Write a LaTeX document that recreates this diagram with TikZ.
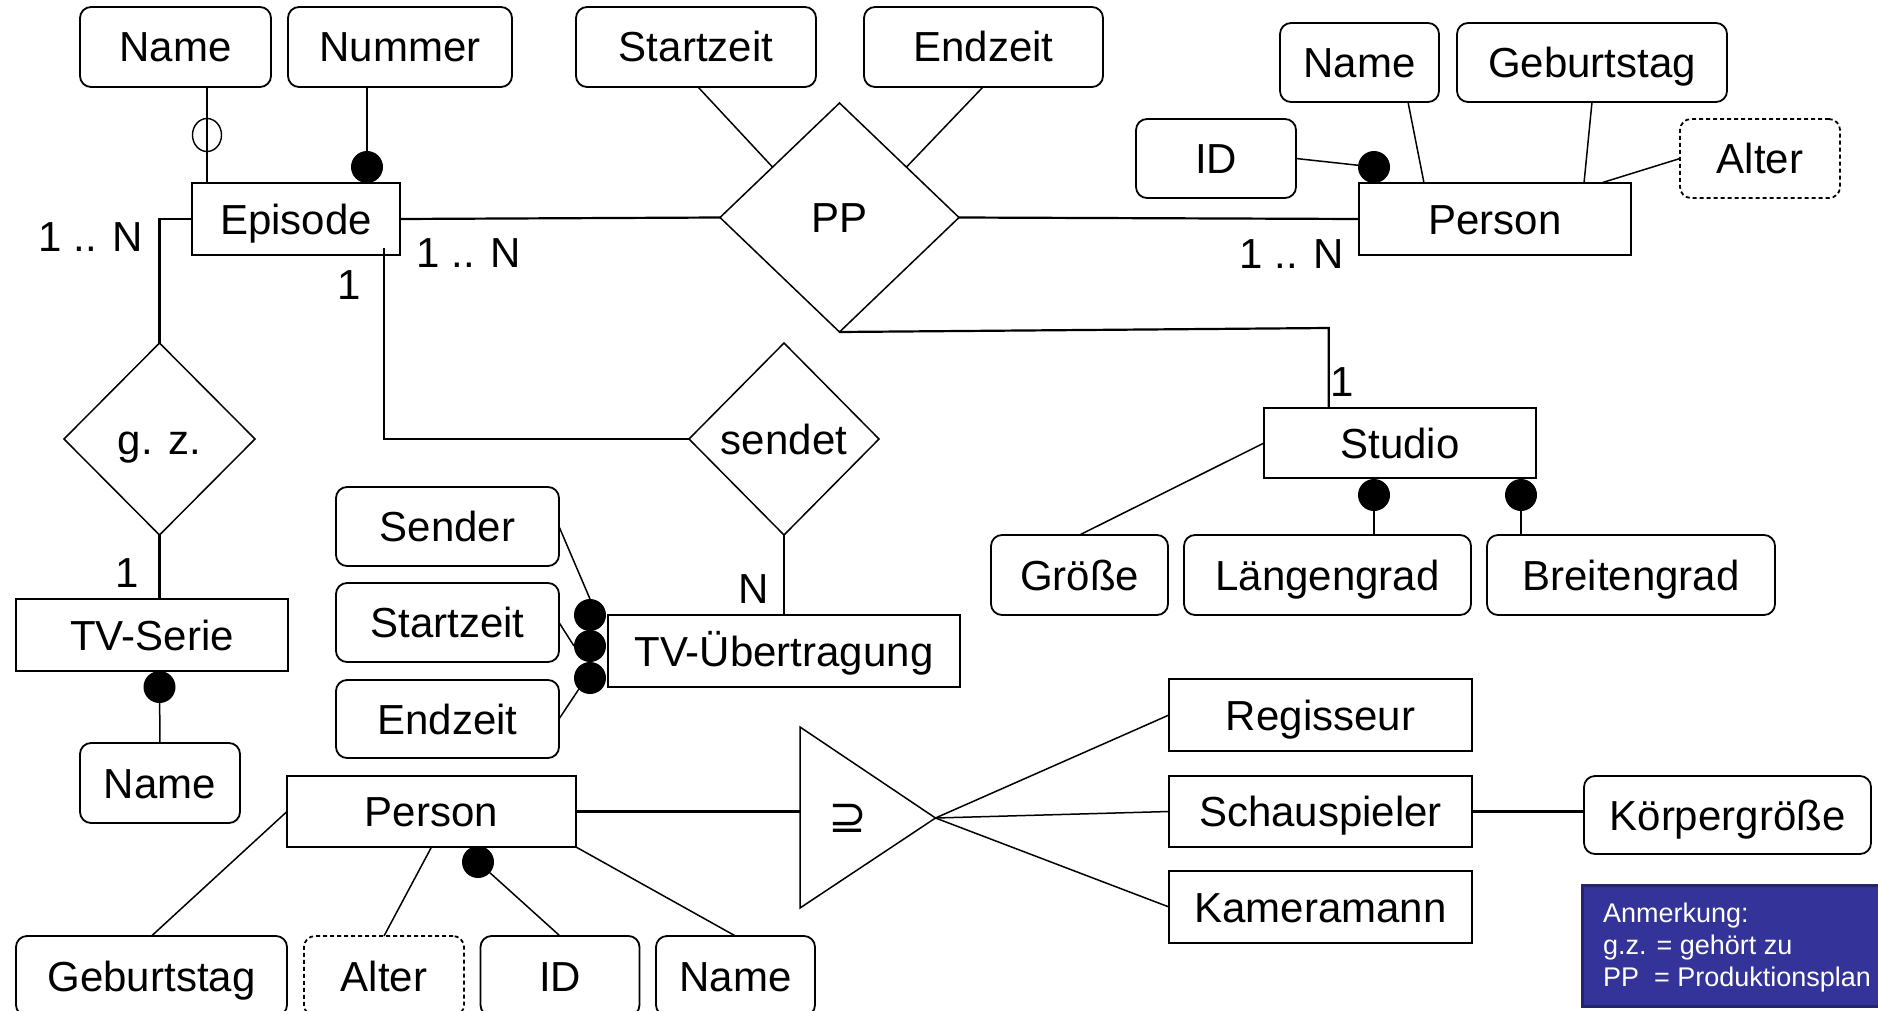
\documentclass[tikz,border=0pt]{standalone}
\usepackage{fontspec}
\setmainfont{Liberation Sans}
\newfontfamily\symfont{DejaVu Sans}
\usetikzlibrary{shapes.geometric,calc}
\newcommand{\mf}{\fontsize{21}{25}\selectfont}
\definecolor{notefill}{HTML}{333399}
\definecolor{noteline}{HTML}{25256E}
\begin{document}
\begin{tikzpicture}[x=0.5pt,y=-0.5pt,
  every node/.style={outer sep=0pt},
  ent/.style={draw, line width=0.9pt, inner sep=0pt, font=\mf, text height=15pt, text depth=0pt},
  att/.style={ent, rounded corners=5.5pt},
  datt/.style={att, dash pattern=on 2pt off 1.5pt},
  rel/.style={diamond, draw, line width=0.75pt, inner sep=0pt, font=\mf, text height=15pt, text depth=0pt},
  dot/.style={circle, fill=black, inner sep=0pt, minimum size=16pt},
  ocirc/.style={ellipse, draw, line width=0.7pt, inner sep=0pt, minimum width=14.5pt, minimum height=16.5pt},
  lbl/.style={font=\mf, inner sep=0pt, text height=15pt, text depth=0pt},
  con/.style={line width=0.75pt},
  er/.style={line width=1.1pt}]
\useasboundingbox (0,0) rectangle (1878,1011);
\clip (0,0) rectangle (1878,1011);

% entities
\node[ent, minimum width=104pt, minimum height=36pt] (ep) at (296,219) {Episode};
\node[ent, minimum width=136pt, minimum height=36pt] (pt) at (1495,219) {Person};
\node[ent, minimum width=136pt, minimum height=35pt] (st) at (1400,443) {Studio};
\node[ent, minimum width=136pt, minimum height=36pt] (ts) at (152,635) {TV-Serie};
\node[ent, minimum width=176pt, minimum height=36pt] (tu) at (784,651) {TV-Übertragung};
\node[ent, minimum width=144.5pt, minimum height=35.5pt] (pb) at (431.5,811.5) {Person};
\node[ent, minimum width=151.5pt, minimum height=36pt] (rg) at (1320.5,715) {Regisseur};
\node[ent, minimum width=151.5pt, minimum height=35.5pt] (sp) at (1320.5,811.5) {Schauspieler};
\node[ent, minimum width=151.5pt, minimum height=36pt] (km) at (1320.5,907) {Kameramann};

% attributes
\node[att, minimum width=95.5pt, minimum height=40pt] (a1) at (175.5,47) {Name};
\node[att, minimum width=112pt, minimum height=40pt] (a2) at (400,47) {Nummer};
\node[att, minimum width=120pt, minimum height=40pt] (a3) at (696,47) {Startzeit};
\node[att, minimum width=119.5pt, minimum height=40pt] (a4) at (983.5,47) {Endzeit};
\node[att, minimum width=79.5pt, minimum height=39.5pt] (a5) at (1359.5,62.5) {Name};
\node[att, minimum width=135pt, minimum height=39.5pt] (a6) at (1592,62.5) {Geburtstag};
\node[att, minimum width=80pt, minimum height=39.5pt] (a7) at (1216,158.5) {ID};
\node[datt, minimum width=80pt, minimum height=39.5pt] (a8) at (1760,158.5) {Alter};
\node[att, minimum width=88.5pt, minimum height=40pt] (a9) at (1079.5,575) {Größe};
\node[att, minimum width=143.5pt, minimum height=40pt] (a10) at (1327.5,575) {Längengrad};
\node[att, minimum width=144pt, minimum height=40pt] (a11) at (1631,575) {Breitengrad};
\node[att, minimum width=111.5pt, minimum height=39.5pt] (a12) at (447.5,526.5) {Sender};
\node[att, minimum width=111.5pt, minimum height=39.5pt] (a13) at (447.5,622.5) {Startzeit};
\node[att, minimum width=111.5pt, minimum height=39pt] (a14) at (447.5,719) {Endzeit};
\node[att, minimum width=80pt, minimum height=40pt] (a15) at (160,783) {Name};
\node[att, minimum width=143.5pt, minimum height=39pt] (a16) at (1727.5,815) {Körpergröße};
\node[att, minimum width=135.5pt, minimum height=40pt] (a17) at (151.5,976) {Geburtstag};
\node[datt, minimum width=80pt, minimum height=40pt] (a18) at (384,976) {Alter};
\node[att, minimum width=79.5pt, minimum height=40pt] (a19) at (560,976) {ID};
\node[att, minimum width=79.5pt, minimum height=40pt] (a20) at (735.5,976) {Name};

% relationships
\node[rel, minimum width=119.5pt, minimum height=114.5pt] (pp) at (839.5,217.5) {PP};
\node[rel, minimum width=95.5pt, minimum height=96pt] (gz) at (159.5,439) {g. z.};
\node[rel, minimum width=95pt, minimum height=96pt] (sd) at (784,439) {sendet};

% specialisation triangle
\coordinate (tA) at (800,727);
\coordinate (tB) at (800,908);
\coordinate (tC) at (935.5,818);
\draw[line width=0.75pt] (tA) -- (tC) -- (tB) -- cycle;
\node[inner sep=0pt, font=\symfont\fontsize{23}{25}\selectfont] (sym) at (848,818) {⊇};

% key markers
\node[ocirc] (o1) at (207,135) {};
\coordinate (k1) at (1328.7,328);
\coordinate (k2) at (384,248);

% connectors
\draw[con] (a1.south -| o1) -- (ep.north -| o1);
\draw[con] (a3.south -| 698,0) -- ($(pp.west)!0.44!(pp.north)$);
\draw[con] (a4.south -| 983,0) -- ($(pp.north)!0.56!(pp.east)$);
\draw[er] (ep.east) -- (pp.west);
\draw[er] (pp.east) -- (pt.west);
\draw[er] (pp.south) -- (k1) -- (k1 |- st.north);
\draw[er] (ep.west) -| (gz.north);
\draw[er] (gz.south) -- (ts.north -| gz.south);
\draw[er] (k2) -- (k2 |- sd.west) -- (sd.west);
\draw[er] (sd.south) -- (tu.north);
\draw[con] (a9.north) -- (st.west);
\draw[con] (a5.south -| 1408,0) -- (pt.north -| 1424,0);
\draw[con] (a6.south -| 1592,0) -- (pt.north -| 1584,0);
\draw[con] (a8.west) -- (pt.north -| 1601,0);
\draw[er] (pb.east) -- (pb.east -| tA);
\draw[con] (tC) -- (rg.west);
\draw[con] (tC) -- (sp.west);
\draw[con] (tC) -- (km.west);
\draw[er] (sp.east) -- (sp.east -| a16.west);
\draw[con] (pb.west) -- (a17.north);
\draw[con] (pb.south) -- (a18.north);
\draw[con] (pb.south east) -- (a20.north);

% filled key dots
\node[dot] (d1) at (367,167) {};
\node[dot] (d2) at (1374,167) {};
\node[dot] (d3) at (159.5,687) {};
\node[dot] (d4) at (1374,495) {};
\node[dot] (d5) at (1521,495) {};
\node[dot] (d6) at (590,615) {};
\node[dot] (d7) at (590,646) {};
\node[dot] (d8) at (590,678) {};
\node[dot] (d9) at (478,862) {};
\draw[con] (a2.south -| d1) -- (d1);
\draw[con] (a7.east) -- (d2);
\draw[con] (d3) -- (a15.north);
\draw[con] (d4) -- (a10.north -| d4);
\draw[con] (d5) -- (a11.north -| d5);
\draw[con] (a12.east) -- (d6.north);
\draw[con] (a13.east) -- (d7.west);
\draw[con] (a14.east) -- (d8.south west);
\draw[con] (d9) -- (a19.north);

% cardinalities
\node[lbl] (l1) at (91,236) {1 .. N};
\node[lbl] (l2) at (469,252) {1 .. N};
\node[lbl] (l3) at (349,284) {1};
\node[lbl] (l4) at (1292,253) {1 .. N};
\node[lbl] (l5) at (1342,381) {1};
\node[lbl] (l6) at (127,572) {1};
\node[lbl] (l7) at (754,588) {N};

% note
\node[fill=notefill, draw=noteline, line width=1.5pt, anchor=north west, inner sep=0pt,
      minimum width=170pt, minimum height=60.5pt] (nb) at (1582,885) {};
\node[anchor=north west, inner sep=0pt, text=white, align=left,
      font=\fontsize{13.5}{16}\selectfont] (nt) at (1603,903)
  {Anmerkung:\\g.z. = gehört zu\\PP\ \ = Produktionsplan};
\end{tikzpicture}
\end{document}
